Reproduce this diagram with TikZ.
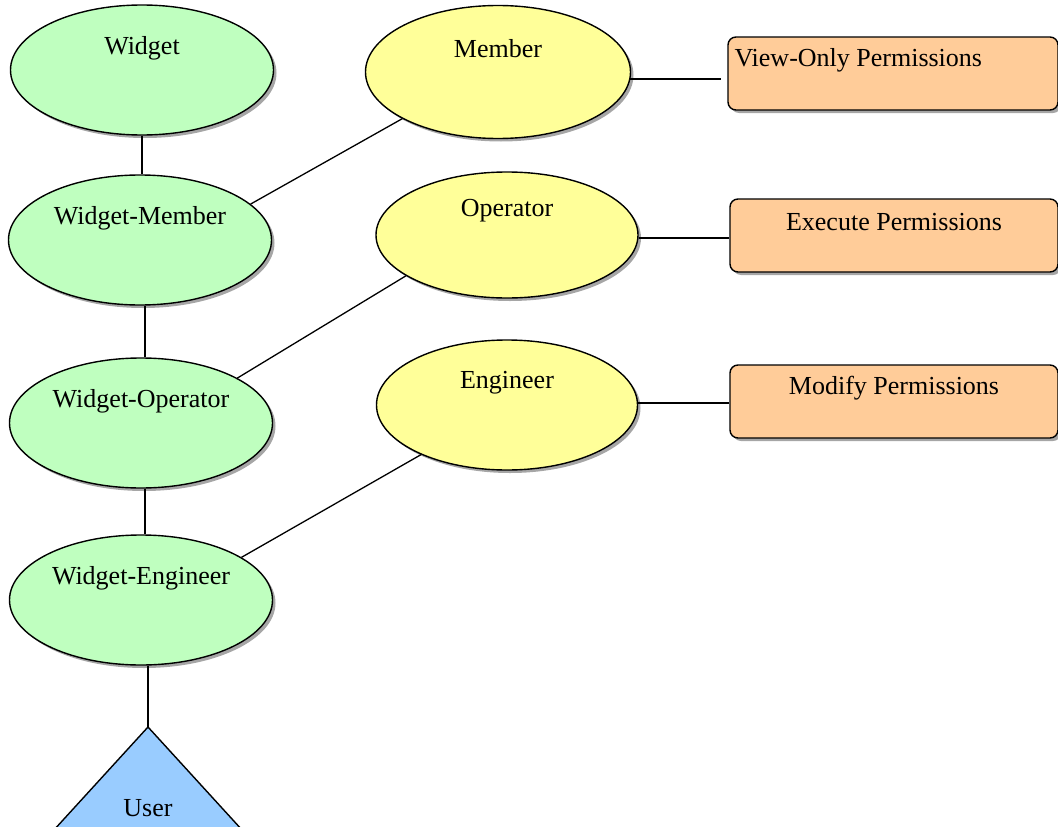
\documentclass[tikz,border=0pt]{standalone}
\usepackage{fontspec}
\setmainfont{Liberation Serif}
\usetikzlibrary{shapes.geometric,shadows}
\definecolor{gfill}{HTML}{BFFFBF}
\definecolor{yfill}{HTML}{FFFF99}
\definecolor{ofill}{HTML}{FFCC99}
\definecolor{bfill}{HTML}{99CCFF}
\begin{document}
\begin{tikzpicture}[x=1pt,y=-1pt,
  font=\fontsize{26}{30}\selectfont,
  every label/.style={inner sep=0pt},
  shad/.style={drop shadow={shadow xshift=3pt,shadow yshift=-3pt,fill=black,opacity=.35}},
  ent/.style={ellipse,draw,line width=1.4pt,shad,minimum width=263pt,minimum height=130pt,inner sep=0pt},
  gent/.style={ent,fill=gfill},
  yent/.style={ent,fill=yfill},
  ttl/.style={label={[anchor=center,yshift=-44pt]north:#1}},
  perm/.style={rectangle,rounded corners=8pt,draw,line width=1.4pt,fill=ofill,shad,minimum width=329pt,minimum height=73pt,inner sep=0pt},
  ptl/.style={label={[anchor=center,yshift=-24pt]north:#1}},
  conn/.style={line width=1.3pt}
]
\useasboundingbox (0,0) rectangle (1058,827);

% left column
\node[gent,ttl=Widget] (widget) at (142,70) {};
\node[gent,ttl=Widget-Member] (wmem) at (140,240) {};
\node[gent,ttl=Widget-Operator] (wop) at (141,423) {};
\node[gent,ttl=Widget-Engineer] (weng) at (141,600) {};

% middle column
\node[yent,minimum width=265pt,minimum height=133pt,ttl=Member] (mem) at (498,72) {};
\node[yent,minimum width=262pt,minimum height=126pt,label={[anchor=center,yshift=-39pt]north:Operator}] (op) at (507,235) {};
\node[yent,minimum width=261pt,minimum height=130pt,label={[anchor=center,yshift=-43pt]north:Engineer}] (eng) at (507,405) {};

% permission boxes
\node[perm,minimum width=330pt,label={[anchor=west,xshift=7pt,yshift=-24pt]north west:View-Only Permissions}] (view) at (893,73.5) {};
\node[perm,minimum width=328pt,ptl=Execute Permissions] (exe) at (894,235.5) {};
\node[perm,minimum width=328pt,ptl=Modify Permissions] (mod) at (894,401.5) {};

% user triangle
\coordinate (uapex) at (148,727);
\path[draw,line width=1.4pt,fill=bfill,shad] (uapex) -- (11,877) -- (285,877) -- cycle;
\node (user) at (148,808) {User};

% connectors
\draw[conn] (widget.south) -- (widget.south |- wmem.north);
\draw[conn] ([xshift=5pt]wmem.south) -- ([xshift=5pt]wmem.south |- wop.north);
\draw[conn] ([xshift=4pt]wop.south) -- ([xshift=4pt]wop.south |- weng.north);
\draw[conn] (weng.south -| uapex) -- (uapex);

\draw[conn] (wmem.18) -- (mem.206);
\draw[conn] (wop.25) -- (op.202);
\draw[conn] (weng.23) -- (eng.210);

\draw[conn] (mem.-3) -- ([xshift=-6pt]view.west |- mem.-3);
\draw[conn] ([yshift=-3pt]op.east) -- ([yshift=-3pt]op.east -| exe.west);
\draw[conn] ([yshift=2pt]eng.east) -- ([yshift=2pt]eng.east -| mod.west);
\end{tikzpicture}
\end{document}
